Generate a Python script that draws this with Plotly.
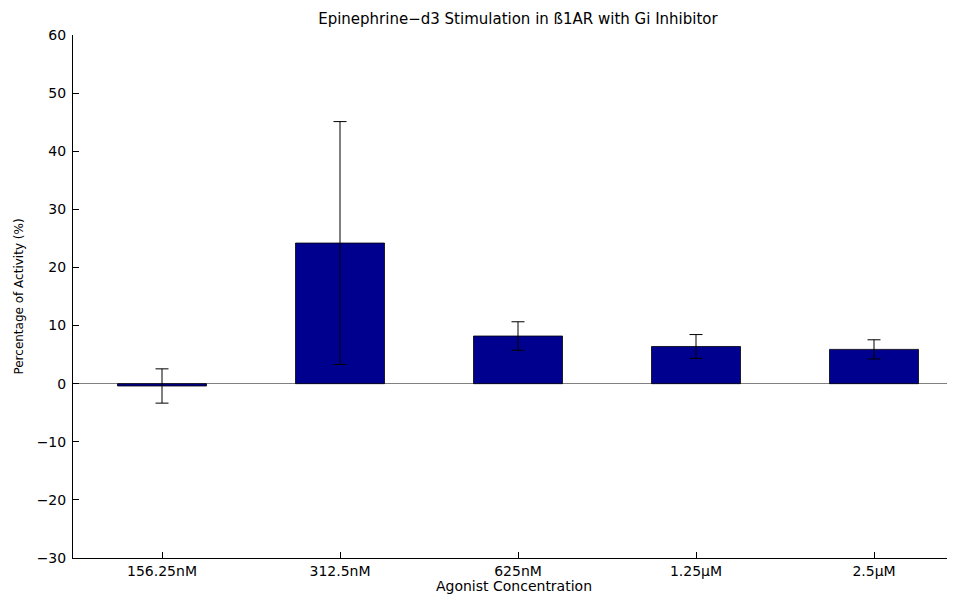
import plotly.graph_objects as go

categories = ["156.25nM", "312.5nM", "625nM", "1.25µM", "2.5µM"]
positions = [1, 2, 3, 4, 5]
activity = [-0.4, 24.2, 8.2, 6.4, 5.9]
errors = [2.95, 20.9, 2.45, 2.05, 1.65]

fig = go.Figure()
fig.add_trace(go.Bar(
    x=positions, y=activity, width=0.5,
    marker=dict(color="#00008F", line=dict(color="black", width=0.8)),
    error_y=dict(type="data", array=errors, visible=True, color="black", thickness=1, width=6.5),
))

font = "DejaVu Sans, Liberation Sans, Arial, sans-serif"
# page body has an 8px default margin; figure sized/offset to compensate
fig.update_layout(
    width=947, height=586,
    margin=dict(l=65, r=0, t=27, b=36),
    plot_bgcolor="white", paper_bgcolor="white",
    showlegend=False,
    font=dict(family=font, size=14, color="black"),
    title=dict(text="Epinephrine−d3 Stimulation in ß1AR with Gi Inhibitor",
               x=0.5385, xanchor="center", y=0.981, yanchor="middle",
               font=dict(family=font, size=15, color="black")),
    xaxis=dict(range=[0.5, 5.455], tickvals=positions, ticktext=categories,
               showline=True, linecolor="black", linewidth=1,
               ticks="inside", ticklen=6, tickcolor="black",
               showgrid=False, zeroline=False, automargin=False,
               title=dict(text="Agonist Concentration", standoff=1, font=dict(size=14))),
    yaxis=dict(range=[-30, 60], dtick=10,
               showline=True, linecolor="black", linewidth=1,
               ticks="inside", ticklen=6, tickcolor="black", ticklabelstandoff=3,
               showgrid=False, zeroline=True, zerolinecolor="#808080", zerolinewidth=1,
               automargin=False,
               title=dict(text="Percentage of Activity (%)", standoff=10, font=dict(size=12))),
)

fig.write_html("out.html")
